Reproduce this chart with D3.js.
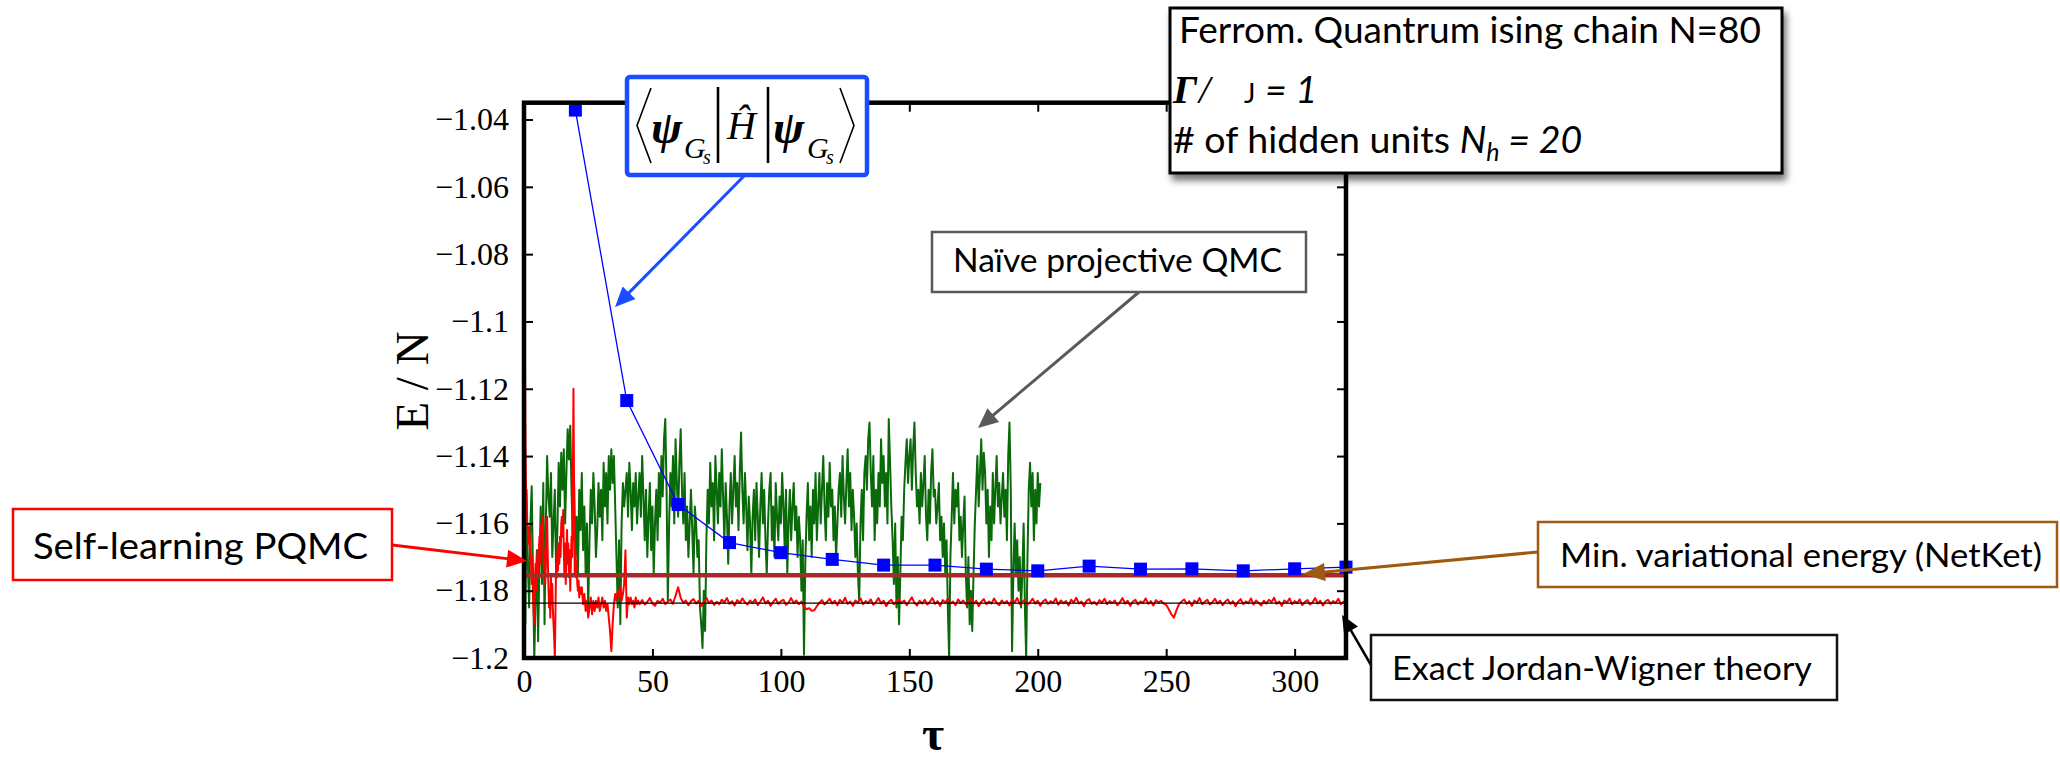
<!DOCTYPE html>
<html>
<head>
<meta charset="utf-8">
<script src="https://cdn.jsdelivr.net/npm/d3@7"></script>
<style>
  html, body { margin: 0; padding: 0; background: #fff; }
  svg { display: block; }
</style>
</head>
<body>
<svg id="chart" width="2060" height="761"></svg>
<script>
// ---- axis ticks ----
const tauTicks = [0, 50, 100, 150, 200, 250, 300];
const energyTicks = [-1.2, -1.18, -1.16, -1.14, -1.12, -1.1, -1.08, -1.06, -1.04];
const energyTickLabels = ["\u22121.2", "\u22121.18", "\u22121.16", "\u22121.14", "\u22121.12", "\u22121.1", "\u22121.08", "\u22121.06", "\u22121.04"];

// ---- variational energy <psi|H|psi> of the RBM state ----
const variationalTau = [20, 40, 60, 80, 100, 120, 140, 160, 180, 200, 220, 240, 260, 280, 300, 320];
const variationalE = [-1.0372, -1.1235, -1.1544, -1.1657, -1.1687, -1.1707, -1.1724, -1.1724,
                      -1.1736, -1.1741, -1.1727, -1.1736, -1.1735, -1.1741, -1.1735, -1.1730];

// ---- reference levels ----
const netketMinE = -1.1754;   // minimum variational energy (NetKet)
const exactJWE = -1.1837;     // exact Jordan-Wigner result

// ---- naive projective QMC, tau = 0, 0.5, 1, ... ----
const naiveTauStart = 0, naiveTauStep = 0.5;
const naiveE = [
  -1.165,-1.190,-1.150,-1.172,-1.185,-1.160,-1.149,-1.175,-1.200,-1.183,
  -1.168,-1.195,-1.172,-1.155,-1.178,-1.148,-1.190,-1.160,-1.140,-1.152,
  -1.158,-1.145,-1.170,-1.160,-1.150,-1.175,-1.162,-1.142,-1.155,-1.139,
  -1.150,-1.138,-1.160,-1.145,-1.132,-1.141,-1.131,-1.150,-1.165,-1.148,
  -1.170,-1.158,-1.175,-1.150,-1.162,-1.145,-1.168,-1.155,-1.175,-1.160,
  -1.185,-1.165,-1.150,-1.160,-1.145,-1.155,-1.170,-1.162,-1.148,-1.158,
  -1.150,-1.165,-1.142,-1.155,-1.145,-1.160,-1.140,-1.150,-1.138,-1.148,
  -1.140,-1.155,-1.170,-1.185,-1.165,-1.190,-1.160,-1.148,-1.155,-1.150,
  -1.145,-1.158,-1.142,-1.150,-1.162,-1.148,-1.155,-1.145,-1.160,-1.152,
  -1.145,-1.158,-1.140,-1.152,-1.165,-1.150,-1.170,-1.158,-1.148,-1.168,
  -1.155,-1.175,-1.160,-1.150,-1.165,-1.145,-1.158,-1.140,-1.152,-1.135,
  -1.129,-1.150,-1.183,-1.160,-1.145,-1.155,-1.140,-1.160,-1.135,-1.148,
  -1.158,-1.142,-1.132,-1.150,-1.160,-1.145,-1.165,-1.155,-1.170,-1.160,
  -1.150,-1.162,-1.175,-1.155,-1.160,-1.170,-1.165,-1.185,-1.190,-1.197,
  -1.180,-1.192,-1.165,-1.150,-1.160,-1.142,-1.155,-1.148,-1.165,-1.140,
  -1.150,-1.160,-1.145,-1.155,-1.138,-1.152,-1.165,-1.148,-1.158,-1.172,
  -1.155,-1.145,-1.160,-1.150,-1.140,-1.155,-1.148,-1.162,-1.145,-1.133,
  -1.150,-1.160,-1.145,-1.155,-1.168,-1.152,-1.160,-1.175,-1.158,-1.150,
  -1.165,-1.148,-1.158,-1.170,-1.155,-1.145,-1.160,-1.150,-1.165,-1.175,
  -1.160,-1.150,-1.145,-1.165,-1.155,-1.170,-1.148,-1.158,-1.165,-1.152,
  -1.160,-1.145,-1.155,-1.168,-1.150,-1.175,-1.160,-1.150,-1.165,-1.155,
  -1.148,-1.162,-1.155,-1.170,-1.158,-1.165,-1.180,-1.165,-1.199,-1.172,
  -1.158,-1.148,-1.165,-1.155,-1.170,-1.150,-1.160,-1.145,-1.165,-1.155,
  -1.145,-1.160,-1.150,-1.140,-1.155,-1.165,-1.148,-1.158,-1.142,-1.155,
  -1.150,-1.165,-1.155,-1.170,-1.160,-1.150,-1.145,-1.158,-1.140,-1.152,
  -1.160,-1.148,-1.138,-1.155,-1.145,-1.162,-1.150,-1.158,-1.170,-1.160,
  -1.175,-1.183,-1.160,-1.150,-1.165,-1.145,-1.140,-1.150,-1.135,-1.130,
  -1.145,-1.155,-1.140,-1.165,-1.150,-1.160,-1.145,-1.155,-1.135,-1.148,
  -1.140,-1.155,-1.145,-1.160,-1.129,-1.142,-1.155,-1.165,-1.178,-1.160,
  -1.185,-1.170,-1.190,-1.175,-1.158,-1.165,-1.150,-1.142,-1.135,-1.148,
  -1.140,-1.135,-1.150,-1.138,-1.130,-1.145,-1.155,-1.150,-1.160,-1.145,
  -1.155,-1.148,-1.140,-1.158,-1.165,-1.150,-1.160,-1.145,-1.138,-1.152,
  -1.150,-1.160,-1.155,-1.148,-1.165,-1.158,-1.170,-1.160,-1.175,-1.165,
  -1.185,-1.200,-1.170,-1.158,-1.145,-1.160,-1.150,-1.155,-1.148,-1.165,
  -1.158,-1.170,-1.160,-1.152,-1.175,-1.185,-1.170,-1.190,-1.180,-1.192,
  -1.175,-1.160,-1.150,-1.140,-1.155,-1.145,-1.135,-1.150,-1.139,-1.145,
  -1.160,-1.150,-1.170,-1.155,-1.165,-1.145,-1.160,-1.150,-1.140,-1.155,
  -1.148,-1.160,-1.152,-1.145,-1.158,-1.150,-1.165,-1.140,-1.130,-1.150,
  -1.198,-1.175,-1.160,-1.175,-1.165,-1.180,-1.170,-1.185,-1.175,-1.160,
  -1.185,-1.200,-1.170,-1.150,-1.142,-1.155,-1.145,-1.165,-1.150,-1.160,
  -1.145,-1.155,-1.148
];

// ---- self-learning PQMC: early transient (tau = 0 .. 22, step 0.25) ----
const slTransientStart = 0, slTransientStep = 0.25;
const slTransientE = [
  -1.000,-1.090,-1.130,-1.148,-1.155,-1.160,-1.163,-1.166,
  -1.161,-1.168,-1.164,-1.172,-1.178,-1.170,-1.182,-1.186,
  -1.190,-1.178,-1.172,-1.180,-1.174,-1.168,-1.176,-1.170,
  -1.164,-1.172,-1.166,-1.160,-1.163,-1.158,-1.166,-1.174,
  -1.168,-1.178,-1.172,-1.160,-1.158,-1.170,-1.178,-1.185,
  -1.180,-1.188,-1.176,-1.184,-1.178,-1.186,-1.190,-1.194,
  -1.200,-1.186,-1.172,-1.176,-1.168,-1.174,-1.166,-1.172,
  -1.164,-1.170,-1.160,-1.158,-1.164,-1.156,-1.168,-1.176,
  -1.166,-1.178,-1.170,-1.162,-1.172,-1.166,-1.176,-1.168,
  -1.180,-1.172,-1.164,-1.170,-1.150,-1.120,-1.150,-1.175,
  -1.168,-1.176,-1.171,-1.178,-1.180,-1.177,-1.182,-1.179,
  -1.181
];

// ---- self-learning PQMC: relaxation (tau = 22.5 .. 45, step 0.5) ----
const slRelaxStart = 22.5, slRelaxStep = 0.5;
const slRelaxE = [
  -1.179,-1.184,-1.181,-1.186,-1.183,-1.188,-1.185,-1.182,-1.187,-1.183,
  -1.186,-1.183,-1.185,-1.182,-1.186,-1.184,-1.182,-1.185,-1.183,-1.186,
  -1.184,-1.188,-1.192,-1.198,-1.190,-1.184,-1.181,-1.183,-1.180,-1.182,
  -1.179,-1.183,-1.181,-1.178,-1.168,-1.188,-1.182,-1.184,-1.182,-1.184,
  -1.183,-1.185,-1.182,-1.184,-1.183,-1.184
];

// ---- self-learning PQMC: converged (tau = 46 .. 320, step 1) ----
const slSettledStart = 46, slSettledStep = 1;
const slSettledE = [
  -1.1828,-1.1841,-1.1833,-1.1822,-1.1838,-1.1845,-1.1830,-1.1836,-1.1824,-1.1840,
  -1.1832,-1.1826,-1.1839,-1.1815,-1.1790,-1.1822,-1.1836,-1.1829,-1.1843,-1.1831,
  -1.1825,-1.1838,-1.1830,-1.1846,-1.1834,-1.1821,-1.1837,-1.1829,-1.1842,-1.1833,
  -1.1840,-1.1827,-1.1835,-1.1822,-1.1839,-1.1831,-1.1844,-1.1828,-1.1836,-1.1823,
  -1.1834,-1.1841,-1.1829,-1.1837,-1.1826,-1.1843,-1.1832,-1.1820,-1.1838,-1.1830,
  -1.1845,-1.1833,-1.1824,-1.1839,-1.1831,-1.1827,-1.1842,-1.1835,-1.1822,-1.1837,
  -1.1829,-1.1840,-1.1832,-1.1848,-1.1855,-1.1852,-1.1860,-1.1858,-1.1846,-1.1836,
  -1.1828,-1.1841,-1.1833,-1.1824,-1.1838,-1.1830,-1.1843,-1.1827,-1.1836,-1.1821,
  -1.1839,-1.1832,-1.1845,-1.1829,-1.1835,-1.1823,-1.1840,-1.1831,-1.1837,-1.1826,
  -1.1842,-1.1834,-1.1822,-1.1838,-1.1830,-1.1846,-1.1833,-1.1827,-1.1840,-1.1832,
  -1.1825,-1.1837,-1.1829,-1.1843,-1.1831,-1.1820,-1.1836,-1.1844,-1.1830,-1.1838,
  -1.1827,-1.1841,-1.1833,-1.1822,-1.1839,-1.1831,-1.1845,-1.1828,-1.1835,-1.1824,
  -1.1838,-1.1832,-1.1843,-1.1826,-1.1837,-1.1829,-1.1841,-1.1834,-1.1821,-1.1839,
  -1.1830,-1.1846,-1.1833,-1.1825,-1.1840,-1.1832,-1.1838,-1.1823,-1.1836,-1.1843,
  -1.1829,-1.1837,-1.1831,-1.1844,-1.1826,-1.1835,-1.1822,-1.1840,-1.1833,-1.1827,
  -1.1841,-1.1834,-1.1824,-1.1838,-1.1830,-1.1845,-1.1832,-1.1826,-1.1839,-1.1831,
  -1.1836,-1.1823,-1.1842,-1.1829,-1.1837,-1.1831,-1.1844,-1.1827,-1.1835,-1.1821,
  -1.1838,-1.1832,-1.1846,-1.1830,-1.1825,-1.1839,-1.1833,-1.1842,-1.1828,-1.1836,
  -1.1824,-1.1840,-1.1831,-1.1837,-1.1829,-1.1843,-1.1834,-1.1822,-1.1838,-1.1830,
  -1.1845,-1.1833,-1.1827,-1.1841,-1.1832,-1.1836,-1.1823,-1.1839,-1.1831,-1.1844,
  -1.1828,-1.1835,-1.1830,-1.1838,-1.1842,-1.1855,-1.1870,-1.1880,-1.1858,-1.1840,
  -1.1832,-1.1826,-1.1839,-1.1831,-1.1845,-1.1829,-1.1836,-1.1822,-1.1840,-1.1833,
  -1.1827,-1.1841,-1.1834,-1.1824,-1.1838,-1.1830,-1.1843,-1.1832,-1.1826,-1.1839,
  -1.1831,-1.1846,-1.1833,-1.1825,-1.1840,-1.1832,-1.1837,-1.1823,-1.1841,-1.1829,
  -1.1836,-1.1844,-1.1830,-1.1838,-1.1827,-1.1834,-1.1821,-1.1839,-1.1832,-1.1845,
  -1.1829,-1.1835,-1.1823,-1.1840,-1.1831,-1.1837,-1.1826,-1.1843,-1.1833,-1.1828,
  -1.1841,-1.1834,-1.1822,-1.1838,-1.1830,-1.1844,-1.1832,-1.1827,-1.1839,-1.1831,
  -1.1836,-1.1824,-1.1840,-1.1833,-1.1829
];

// ---------------------------------------------------------------
const svg = d3.select("#chart");
const serif = "'Liberation Serif', 'Times New Roman', serif";
const sans = "Lato, 'Open Sans', sans-serif";

const plot = { left: 524, right: 1346, top: 102.7, bottom: 658 };
const x = d3.scaleLinear().domain([0, 320]).range([plot.left, plot.right]);
const y = d3.scaleLinear().domain([-1.2, -1.035]).range([plot.bottom, plot.top]);

const withTau = (start, step, values) => values.map((v, i) => [start + i * step, v]);

const defs = svg.append("defs");
defs.append("clipPath").attr("id", "plotClip")
  .append("rect")
  .attr("x", plot.left).attr("y", plot.top)
  .attr("width", plot.right - plot.left).attr("height", plot.bottom - plot.top);

const shadow = defs.append("filter").attr("id", "boxShadow")
  .attr("x", "-10%").attr("y", "-10%").attr("width", "130%").attr("height", "140%");
shadow.append("feGaussianBlur").attr("in", "SourceAlpha").attr("stdDeviation", 3.5).attr("result", "b");
shadow.append("feOffset").attr("in", "b").attr("dx", 3).attr("dy", 6).attr("result", "o");
shadow.append("feComponentTransfer").attr("in", "o").attr("result", "s")
  .append("feFuncA").attr("type", "linear").attr("slope", 0.55);
const fm = shadow.append("feMerge");
fm.append("feMergeNode").attr("in", "s");
fm.append("feMergeNode").attr("in", "SourceGraphic");

const line = d3.line().x(d => x(d[0])).y(d => y(d[1]));
const data = svg.append("g").attr("clip-path", "url(#plotClip)");

// naive projective QMC
data.append("path")
  .attr("d", line(withTau(naiveTauStart, naiveTauStep, naiveE)))
  .attr("fill", "none").attr("stroke", "#0a6a0a").attr("stroke-width", 2)
  .attr("stroke-linejoin", "round");

// self-learning PQMC
const slPoints = withTau(slTransientStart, slTransientStep, slTransientE)
  .concat(withTau(slRelaxStart, slRelaxStep, slRelaxE))
  .concat(withTau(slSettledStart, slSettledStep, slSettledE));
data.append("path")
  .attr("d", line(slPoints))
  .attr("fill", "none").attr("stroke", "#ff0000").attr("stroke-width", 2)
  .attr("stroke-linejoin", "round");

// NetKet minimum and exact result
data.append("line")
  .attr("x1", x(0)).attr("x2", x(320)).attr("y1", y(netketMinE)).attr("y2", y(netketMinE))
  .attr("stroke", "#a52a2a").attr("stroke-width", 4.5);
data.append("line")
  .attr("x1", x(0)).attr("x2", x(320)).attr("y1", y(exactJWE)).attr("y2", y(exactJWE))
  .attr("stroke", "#000").attr("stroke-width", 1.4);

// variational energy curve with square markers
const varPts = variationalTau.map((t, i) => [t, variationalE[i]]);
data.append("path")
  .attr("d", line(varPts))
  .attr("fill", "none").attr("stroke", "#0000ff").attr("stroke-width", 1.3);
const sq = 13;
svg.append("g").selectAll("rect").data(varPts).join("rect")
  .attr("x", d => x(d[0]) - sq / 2).attr("y", d => y(d[1]) - sq / 2)
  .attr("width", sq).attr("height", sq).attr("fill", "#0000ff");

// ---- axes: ticks inward on all four sides ----
const tickLen = 9;
const styleAxis = g => {
  g.select(".domain").remove();
  g.selectAll(".tick line").attr("stroke", "#000").attr("stroke-width", 2);
  g.selectAll(".tick text").attr("font-family", serif).attr("font-size", 32).attr("fill", "#000");
};
svg.append("g").attr("transform", `translate(0,${plot.bottom})`)
  .call(d3.axisBottom(x).tickValues(tauTicks).tickFormat(d3.format("d"))
    .tickSizeInner(-tickLen).tickSizeOuter(0).tickPadding(11))
  .call(styleAxis);
svg.append("g").attr("transform", `translate(0,${plot.top})`)
  .call(d3.axisTop(x).tickValues(tauTicks).tickFormat("").tickSizeInner(-tickLen).tickSizeOuter(0))
  .call(styleAxis);
svg.append("g").attr("transform", `translate(${plot.left},0)`)
  .call(d3.axisLeft(y).tickValues(energyTicks).tickFormat((d, i) => energyTickLabels[i])
    .tickSizeInner(-tickLen).tickSizeOuter(0).tickPadding(15))
  .call(styleAxis);
svg.append("g").attr("transform", `translate(${plot.right},0)`)
  .call(d3.axisRight(y).tickValues(energyTicks).tickFormat("").tickSizeInner(-tickLen).tickSizeOuter(0))
  .call(styleAxis);

svg.append("rect")
  .attr("x", plot.left).attr("y", plot.top)
  .attr("width", plot.right - plot.left).attr("height", plot.bottom - plot.top)
  .attr("fill", "none").attr("stroke", "#000").attr("stroke-width", 4.5);

// axis titles
svg.append("text")
  .attr("transform", "translate(428,381) rotate(-90)")
  .attr("text-anchor", "middle")
  .attr("font-family", serif).attr("font-size", 47).text("E / N");
svg.append("text")
  .attr("x", 933).attr("y", 750).attr("text-anchor", "middle")
  .attr("font-family", serif).attr("font-weight", "bold").attr("font-size", 48).text("\u03c4");

// ---- annotations ----
function arrow(x1, y1, x2, y2, color, width, headLen, headHalf) {
  const dx = x2 - x1, dy = y2 - y1, L = Math.hypot(dx, dy);
  const ux = dx / L, uy = dy / L, px = -uy, py = ux;
  const bx = x2 - ux * headLen, by = y2 - uy * headLen;
  svg.append("line").attr("x1", x1).attr("y1", y1).attr("x2", bx + ux * 2).attr("y2", by + uy * 2)
    .attr("stroke", color).attr("stroke-width", width);
  svg.append("path")
    .attr("d", `M${x2},${y2}L${bx + px * headHalf},${by + py * headHalf}L${bx - px * headHalf},${by - py * headHalf}Z`)
    .attr("fill", color);
}
function box(x0, y0, w, h, stroke, sw, extra) {
  const r = svg.append("rect").attr("x", x0).attr("y", y0).attr("width", w).attr("height", h)
    .attr("fill", "#fff").attr("stroke", stroke).attr("stroke-width", sw);
  if (extra) extra(r);
  return r;
}
function label(txt, x0, base, size, width) {
  svg.append("text").attr("x", x0).attr("y", base)
    .attr("font-family", sans).attr("font-size", size).attr("fill", "#000")
    .attr("textLength", width).attr("lengthAdjust", "spacingAndGlyphs").text(txt);
}

// <psi|H|psi> label
const blue = "#1a4dff";
arrow(745, 175, 615, 307, blue, 3, 20, 9);
box(627, 77, 240, 98, blue, 4.5, r => r.attr("rx", 3));
const bra = svg.append("g").attr("fill", "none").attr("stroke", "#000");
bra.append("path").attr("d", "M651,88L637,125.5L651,163").attr("stroke-width", 1.6);
bra.append("path").attr("d", "M840,88L854,125.5L840,163").attr("stroke-width", 1.6);
bra.append("line").attr("x1", 718).attr("x2", 718).attr("y1", 87).attr("y2", 163).attr("stroke-width", 2.6);
bra.append("line").attr("x1", 768).attr("x2", 768).attr("y1", 87).attr("y2", 163).attr("stroke-width", 2.6);
const mathText = (t, x0, base, size, bold) => svg.append("text").attr("x", x0).attr("y", base)
  .attr("font-family", serif).attr("font-style", "italic").attr("font-weight", bold ? "bold" : "normal")
  .attr("font-size", size).text(t);
mathText("\u03c8", 651, 143, 47, true);
mathText("G", 684, 158, 30, false);
mathText("s", 703, 164, 20, false);
mathText("\u0124", 727, 139, 40, false);
mathText("\u03c8", 773, 143, 47, true);
mathText("G", 807, 158, 30, false);
mathText("s", 826, 164, 20, false);

// naive QMC label
arrow(1139, 292, 978, 428, "#595959", 3, 20, 9);
box(932, 232, 374, 60, "#595959", 2.5);
label("Na\u00efve projective QMC", 953, 272, 33, 329);

// self-learning PQMC label
arrow(392, 545, 527, 561, "#ff0000", 3, 20, 9);
box(13, 509, 379, 71, "#ff0000", 2.5);
label("Self-learning PQMC", 33, 559, 37.5, 335);

// NetKet minimum label
arrow(1538, 552, 1303, 574, "#9e5a10", 3, 22, 9);
box(1538, 522, 519, 65, "#9e5a10", 2.5);
label("Min. variational energy (NetKet)", 1560, 567, 33, 482);

// exact theory label
arrow(1371, 665, 1342, 615, "#000", 2.5, 18, 8);
box(1371, 635, 466, 65, "#111", 2.5);
label("Exact Jordan-Wigner theory", 1392, 680, 33, 420);

// model parameters box
box(1170, 8, 612, 165, "#000", 3, r => r.attr("filter", "url(#boxShadow)"));
label("Ferrom. Quantrum ising chain N=80", 1179, 43, 37.5, 582);
svg.append("text").attr("x", 1173).attr("y", 103)
  .attr("font-family", serif).attr("font-style", "italic").attr("font-weight", "bold")
  .attr("font-size", 40).text("\u0393");
svg.append("text").attr("x", 1199).attr("y", 103)
  .attr("font-family", serif).attr("font-style", "italic").attr("font-size", 40).text("/");
svg.append("text").attr("x", 1244).attr("y", 103)
  .attr("font-family", sans).attr("font-size", 27).text("J");
svg.append("text").attr("x", 1265).attr("y", 103)
  .attr("font-family", sans).attr("font-style", "italic").attr("font-size", 37.5).text("= 1");
const l3 = svg.append("text").attr("x", 1173).attr("y", 153)
  .attr("font-family", sans).attr("font-size", 37.5);
l3.append("tspan").text("# of hidden units ");
l3.append("tspan").attr("font-style", "italic").text("N");
l3.append("tspan").attr("font-style", "italic").attr("font-size", 25).attr("dy", 8).text("h");
l3.append("tspan").attr("font-style", "italic").attr("dy", -8).text(" = 20");
</script>
</body>
</html>
